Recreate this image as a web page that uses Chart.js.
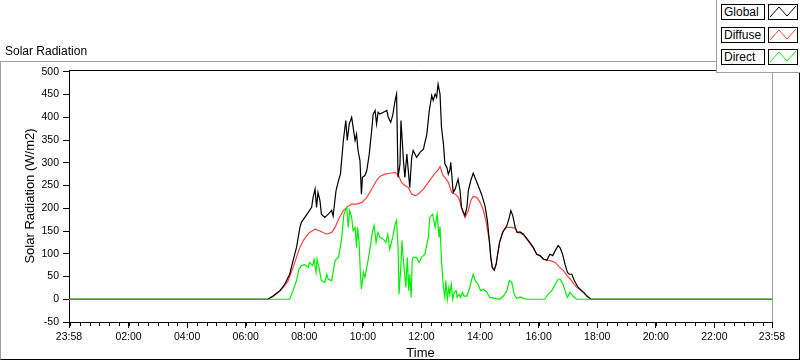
<!DOCTYPE html>
<html>
<head>
<meta charset="utf-8">
<script src="https://cdn.jsdelivr.net/npm/chart.js@4"></script>
<style>
  html, body { margin: 0; padding: 0; background: #fff; }
  body { width: 800px; height: 361px; position: relative; overflow: hidden; font-family: "Liberation Sans", Arial, sans-serif; color: #000; }
  #frame { position: absolute; left: 0; top: 61px; width: 798px; height: 297px; border-top: 1px solid #a0a0a0; border-left: 1px solid #a0a0a0; border-right: 1px solid #000; border-bottom: 1px solid #000; }
  #chart { position: absolute; left: 0; top: 0; }
  #title { position: absolute; left: 5px; top: 44px; font-size: 12px; line-height: 14px; }
  #legend { position: absolute; left: 716px; top: 0; width: 83px; height: 72px; background: #fff; border-left: 1px solid #a0a0a0; border-bottom: 1px solid #a0a0a0; }
  .lbl { position: absolute; left: 4px; width: 40px; height: 14px; border: 1px solid #000; background: #fff; font-size: 12px; line-height: 14px; padding-left: 2px; box-sizing: content-box; }
  .smp { position: absolute; left: 51px; width: 28px; height: 14px; border: 1px solid #000; background: #fff; }
  .smp svg { display: block; }
</style>
</head>
<body>
<div id="frame"></div>
<canvas id="chart" width="800" height="361"></canvas>
<div id="title">Solar Radiation</div>
<div id="legend"></div>
<script>
// minutes since midnight (-2 = 23:58 of the previous day)
const globalTimes = [-2, 405, 416, 430, 440, 450, 457, 464, 471, 474,
  481, 488, 495, 498, 502, 505, 508, 512, 515, 522,
  529, 536, 539, 545, 550, 554, 560, 565, 568, 572,
  577, 580, 584, 587, 590, 594, 597, 599, 604, 608,
  613, 618, 621, 625, 628, 631, 635, 642, 649, 652,
  657, 661, 666, 669, 672, 676, 678, 681, 683, 686,
  690, 693, 696, 700, 703, 710, 717, 724, 731, 736,
  741, 744, 748, 751, 754, 758, 761, 765, 768, 772,
  775, 778, 780, 783, 785, 789, 792, 795, 799, 802,
  806, 809, 813, 816, 821, 826, 831, 836, 843, 850,
  855, 859, 862, 865, 869, 873, 876, 880, 886, 895,
  900, 903, 907, 912, 916, 922, 929, 939, 949, 956,
  963, 970, 977, 983, 989, 994, 1000, 1004, 1009, 1014,
  1019, 1023, 1028, 1033, 1041, 1052, 1059, 1067, 1438];
const globalValues = [0, 0, 7, 19, 33, 55, 85, 114, 158, 169,
  180, 191, 202, 224, 242, 202, 235, 217, 187, 180,
  187, 195, 183, 239, 261, 275, 349, 393, 349, 385,
  400, 378, 349, 363, 327, 305, 231, 268, 272, 283,
  319, 371, 407, 415, 385, 411, 407, 411, 415, 400,
  389, 404, 437, 451, 268, 297, 393, 341, 305, 268,
  319, 283, 246, 312, 327, 312, 323, 330, 363, 415,
  448, 437, 451, 444, 473, 451, 378, 341, 297, 290,
  275, 283, 301, 261, 235, 242, 253, 264, 239, 202,
  191, 184, 202, 239, 261, 277, 264, 250, 231, 206,
  173, 129, 92, 70, 64, 77, 99, 125, 147, 162,
  180, 195, 184, 158, 147, 148, 143, 129, 114, 99,
  96, 88, 86, 99, 96, 107, 118, 113, 99, 77,
  59, 55, 55, 41, 26, 15, 7, 0, 0];

const diffuseTimes = [-2, 405, 416, 430, 440, 447, 457, 464, 471, 478,
  485, 491, 502, 512, 526, 536, 543, 550, 560, 567,
  577, 587, 598, 608, 618, 628, 635, 645, 656, 666,
  673, 679, 686, 693, 700, 707, 713, 724, 734, 744,
  755, 758, 764, 768, 775, 782, 789, 796, 803, 809,
  816, 821, 826, 833, 840, 847, 852, 859, 862, 865,
  869, 873, 876, 880, 888, 895, 905, 912, 916, 922,
  929, 939, 949, 956, 963, 970, 977, 984, 994, 1003,
  1011, 1018, 1025, 1031, 1038, 1052, 1059, 1067, 1438];
const diffuseValues = [0, 0, 6, 18, 30, 41, 70, 92, 114, 129,
  140, 147, 154, 150, 143, 147, 158, 176, 195, 202,
  209, 209, 213, 224, 242, 261, 270, 275, 277, 279,
  272, 257, 250, 246, 231, 228, 231, 242, 257, 272,
  286, 292, 272, 268, 257, 235, 231, 224, 198, 180,
  195, 217, 226, 224, 213, 195, 173, 129, 92, 70,
  64, 77, 99, 125, 151, 158, 158, 156, 147, 146,
  141, 128, 113, 99, 95, 88, 86, 85, 81, 70,
  63, 52, 44, 35, 26, 15, 7, 0, 0];

const directTimes = [-2, 450, 457, 464, 469, 474, 481, 488, 491, 497,
  500, 504, 506, 510, 515, 522, 526, 529, 536, 543,
  550, 556, 561, 567, 570, 573, 577, 580, 584, 587,
  589, 592, 595, 597, 601, 604, 608, 614, 620, 623,
  627, 631, 635, 642, 647, 651, 655, 661, 666, 669,
  672, 674, 678, 680, 683, 688, 691, 694, 696, 699,
  701, 703, 710, 715, 720, 727, 734, 737, 743, 748,
  751, 752, 756, 758, 761, 765, 768, 770, 773, 776,
  778, 781, 784, 787, 791, 793, 797, 800, 804, 807,
  813, 818, 823, 826, 830, 836, 841, 847, 854, 860,
  871, 880, 888, 895, 900, 905, 910, 915, 922, 929,
  936, 973, 980, 987, 994, 1000, 1004, 1009, 1014, 1019,
  1024, 1029, 1033, 1038, 1438];
const directValues = [0, 0, 19, 41, 66, 74, 76, 70, 81, 74,
  88, 59, 88, 70, 41, 37, 55, 44, 41, 85,
  92, 129, 187, 202, 158, 195, 180, 151, 158, 114,
  158, 129, 55, 22, 59, 48, 70, 107, 151, 162,
  125, 147, 136, 132, 125, 143, 110, 136, 165, 173,
  114, 11, 77, 129, 85, 26, 92, 19, 55, 4,
  85, 92, 92, 81, 92, 99, 136, 180, 187, 158,
  180, 187, 136, 160, 85, 26, 4, 41, 0, 26,
  11, 33, 0, 15, 19, 4, 11, 4, 15, 7,
  7, 22, 44, 55, 41, 33, 19, 22, 15, 4,
  2, 0, 7, 19, 41, 37, 11, 2, 5, 2,
  0, 0, 12, 19, 33, 44, 44, 35, 19, 4,
  15, 9, 4, 0, 0];

const tickMinutes = [-2, 120, 240, 360, 480, 600, 720, 840, 960, 1080, 1200, 1320, 1438];
const tickLabels = ["23:58", "02:00", "04:00", "06:00", "08:00", "10:00", "12:00",
  "14:00", "16:00", "18:00", "20:00", "22:00", "23:58"];
const yTicks = [-50, 0, 50, 100, 150, 200, 250, 300, 350, 400, 450, 500];

const seriesNames = ["Global", "Diffuse", "Direct"];
const seriesColors = ["#000000", "#ff4040", "#00f000"];

// minor ticks every 20 minutes
const minorTicks = [];
for (let m = 0; m < 1440; m += 20) minorTicks.push(m);

const pts = (ts, vs) => ts.map((t, i) => ({ x: t, y: vs[i] }));
const FONT = "'Liberation Sans', Arial, sans-serif";
Chart.defaults.font.family = FONT;
Chart.defaults.color = "#000";

// top/right plot border + short minor ticks
const plotFrame = {
  id: "plotFrame",
  afterDraw(chart) {
    const { ctx, chartArea: a, scales: { x } } = chart;
    ctx.save();
    ctx.lineWidth = 1;
    ctx.strokeStyle = "#000";
    ctx.beginPath();
    ctx.moveTo(a.left, Math.round(a.top) + 0.5);
    ctx.lineTo(a.right, Math.round(a.top) + 0.5);
    ctx.stroke();
    ctx.strokeStyle = "#a0a0a0";
    ctx.beginPath();
    ctx.moveTo(Math.round(a.right) + 0.5, a.top);
    ctx.lineTo(Math.round(a.right) + 0.5, a.bottom);
    ctx.stroke();
    ctx.strokeStyle = "#000";
    ctx.beginPath();
    minorTicks.forEach(v => {
      const px = Math.round(x.getPixelForValue(v)) + 0.5;
      ctx.moveTo(px, a.bottom);
      ctx.lineTo(px, a.bottom + 4);
    });
    ctx.stroke();
    ctx.restore();
  }
};

new Chart(document.getElementById("chart"), {
  type: "line",
  data: {
    datasets: [
      { label: seriesNames[0], data: pts(globalTimes, globalValues), borderColor: seriesColors[0], order: 1 },
      { label: seriesNames[1], data: pts(diffuseTimes, diffuseValues), borderColor: seriesColors[1], order: 2 },
      { label: seriesNames[2], data: pts(directTimes, directValues), borderColor: seriesColors[2], order: 0 }
    ]
  },
  options: {
    responsive: false,
    animation: false,
    datasets: { line: { borderWidth: 1.2, pointRadius: 0, tension: 0, fill: false } },
    layout: { padding: { left: 0, top: 70, right: 28, bottom: 0 } },
    plugins: { legend: { display: false }, tooltip: { enabled: false } },
    scales: {
      x: {
        type: "linear", min: -2, max: 1438,
        afterBuildTicks: s => { s.ticks = tickMinutes.map(v => ({ value: v })); },
        afterFit: s => { s.height = 39; s.paddingLeft = 0; s.paddingRight = 0; },
        grid: { drawOnChartArea: false, tickLength: 6, tickColor: "#000" },
        border: { color: "#000" },
        ticks: { autoSkip: false, maxRotation: 0, padding: 3, color: "#000",
          font: { size: 10.5 }, callback: (v, i) => tickLabels[i] },
        title: { display: true, text: "Time", color: "#000", font: { size: 13 }, padding: { top: 0, bottom: 0 } }
      },
      y: {
        min: -50, max: 504,
        afterBuildTicks: s => { s.ticks = yTicks.map(v => ({ value: v })); },
        afterFit: s => { s.width = 69; s.paddingTop = 0; s.paddingBottom = 0; },
        grid: { drawOnChartArea: false, tickLength: 6, tickColor: "#000" },
        border: { color: "#000" },
        ticks: { padding: 4, color: "#000", font: { size: 10.5 } },
        title: { display: true, text: "Solar Radiation (W/m2)", color: "#000", font: { size: 13 }, padding: { top: 23, bottom: 0 } }
      }
    }
  },
  plugins: [plotFrame]
});

// legend boxes like the original front panel
const legend = document.getElementById("legend");
seriesNames.forEach((name, i) => {
  const top = 4 + i * 22.7;
  const lbl = document.createElement("div");
  lbl.className = "lbl";
  lbl.style.top = top + "px";
  lbl.textContent = name;
  legend.appendChild(lbl);
  const smp = document.createElement("div");
  smp.className = "smp";
  smp.style.top = top + "px";
  smp.innerHTML = '<svg width="28" height="14"><polyline points="1,12 10,2 18,11 27,1" fill="none" stroke="' +
    seriesColors[i] + '" stroke-width="1"/></svg>';
  legend.appendChild(smp);
});
</script>
</body>
</html>
